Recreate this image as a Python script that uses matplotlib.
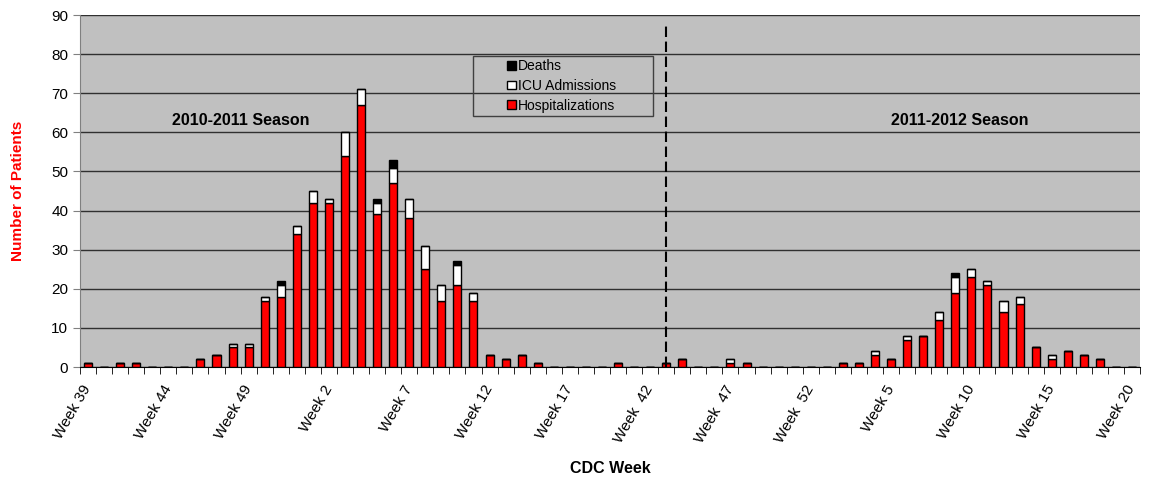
import matplotlib.pyplot as plt
import numpy as np
from matplotlib.patches import Rectangle

plt.rcParams["font.family"] = ["Liberation Sans", "DejaVu Sans"]

# CDC weeks: 2010-2011 season (39..52, 1..20) then 2011-2012 season (41..52, 1..20)
season1_weeks = list(range(39, 53)) + list(range(1, 21))
season2_weeks = list(range(41, 53)) + list(range(1, 21))

hospitalizations = [
    1, 0, 1, 1, 0, 0, 0, 2, 3, 5, 5, 17, 18, 34, 42, 42, 54, 67, 39, 47,
    38, 25, 17, 21, 17, 3, 2, 3, 1, 0, 0, 0, 0, 1,
    0, 0, 1, 2, 0, 0, 1, 1, 0, 0, 0, 0, 0, 1, 1, 3, 2, 7, 8, 12, 19, 23,
    21, 14, 16, 5, 2, 4, 3, 2, 0, 0,
]
icu_admissions = [
    0, 0, 0, 0, 0, 0, 0, 0, 0, 1, 1, 1, 3, 2, 3, 1, 6, 4, 3, 4,
    5, 6, 4, 5, 2, 0, 0, 0, 0, 0, 0, 0, 0, 0,
    0, 0, 0, 0, 0, 0, 1, 0, 0, 0, 0, 0, 0, 0, 0, 1, 0, 1, 0, 2, 4, 2,
    1, 3, 2, 0, 1, 0, 0, 0, 0, 0,
]
deaths = [
    0, 0, 0, 0, 0, 0, 0, 0, 0, 0, 0, 0, 1, 0, 0, 0, 0, 0, 1, 2,
    0, 0, 0, 1, 0, 0, 0, 0, 0, 0, 0, 0, 0, 0,
    0, 0, 0, 0, 0, 0, 0, 0, 0, 0, 0, 0, 0, 0, 0, 0, 0, 0, 0, 0, 1, 0,
    0, 0, 0, 0, 0, 0, 0, 0, 0, 0,
]

labels = [f"Week {w}" for w in season1_weeks] + [
    (f"Week  {w}" if w >= 40 else f"Week {w}") for w in season2_weeks
]
season_break = 36

x = np.arange(len(labels))
hosp = np.array(hospitalizations)
icu = np.array(icu_admissions)
dead = np.array(deaths)

fig = plt.figure(figsize=(11.49, 4.78), dpi=100)
ax = fig.add_axes([0.0696, 0.2322, 0.9226, 0.7364])
ax.set_facecolor("#C0C0C0")

bw = 0.5
ax.bar(x, hosp, bw, color="#FF0000", edgecolor="black", linewidth=1, label="Hospitalizations", zorder=3)
ax.bar(x, icu, bw, bottom=hosp, color="white", edgecolor="black", linewidth=1, label="ICU Admissions", zorder=3)
ax.bar(x, dead, bw, bottom=hosp + icu, color="black", edgecolor="black", linewidth=1, label="Deaths", zorder=3)

# season divider
ax.plot([season_break, season_break], [0, 87.2], color="black", linestyle=(0, (5, 2.2)),
        linewidth=1.5, zorder=4)

ax.set_ylim(0, 90)
ax.set_xlim(-0.5, len(labels) - 0.5)
ax.set_yticks(range(0, 91, 10))
ax.yaxis.grid(True, color="#303030", linewidth=1, zorder=0)
ax.tick_params(axis="y", labelsize=11, direction="out", length=5, color="#808080")

major = x[::5]
ax.set_xticks(major)
ax.set_xticklabels([labels[i] for i in major], rotation=60, ha="right", va="center",
                   rotation_mode="anchor", fontsize=11)
ax.set_xticks(np.arange(-0.5, len(labels), 1), minor=True)
ax.tick_params(axis="x", which="major", length=0, pad=14)
ax.tick_params(axis="x", which="minor", length=5, direction="out", color="black")

for side in ("top", "right"):
    ax.spines[side].set_visible(False)
ax.spines["left"].set_color("#808080")
ax.spines["bottom"].set_color("black")

ax.set_ylabel("Number of Patients", color="red", fontweight="bold", fontsize=11, labelpad=19)
ax.set_xlabel("CDC Week", fontweight="bold", fontsize=11.5, labelpad=11)

ax.text(9.5, 63, "2010-2011 Season", ha="center", va="center", fontweight="bold", fontsize=11.5)
ax.text(54.3, 63, "2011-2012 Season", ha="center", va="center", fontweight="bold", fontsize=11.5)

handles, lbls = ax.get_legend_handles_labels()
leg = ax.legend(handles[::-1], lbls[::-1], loc="upper left", bbox_to_anchor=(0.403, 0.875),
                fontsize=10, frameon=False, handlelength=0.6, handleheight=0.6,
                handletextpad=0.2, borderpad=0, labelspacing=0.42, borderaxespad=0)
leg.set_zorder(5)
# transparent legend box, wider than the entries
ax.add_patch(Rectangle((0.3704, 0.7131), 0.1706, 0.1705, transform=ax.transAxes,
                       fill=False, edgecolor="#404040", linewidth=1, zorder=5))

fig.savefig("out.png", dpi=100)
